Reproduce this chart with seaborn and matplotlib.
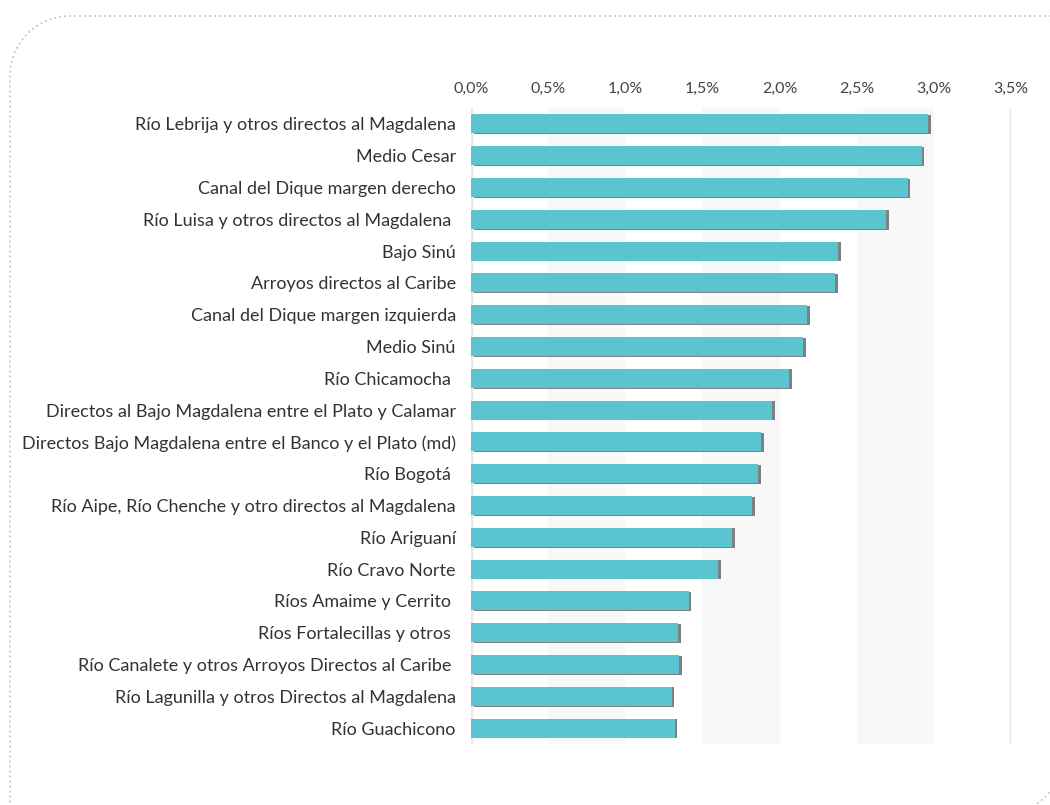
import matplotlib
matplotlib.use("Agg")
import matplotlib.pyplot as plt
import matplotlib.patheffects as pe
from matplotlib.patches import PathPatch
from matplotlib.path import Path
import seaborn as sns
import pandas as pd

categories = [
    "Río Lebrija y otros directos al Magdalena",
    "Medio Cesar",
    "Canal del Dique margen derecho",
    "Río Luisa y otros directos al Magdalena ",
    "Bajo Sinú",
    "Arroyos directos al Caribe",
    "Canal del Dique margen izquierda",
    "Medio Sinú",
    "Río Chicamocha ",
    "Directos al Bajo Magdalena entre el Plato y Calamar",
    "Directos Bajo Magdalena entre el Banco y el Plato (md)",
    "Río Bogotá ",
    "Río Aipe, Río Chenche y otro directos al Magdalena",
    "Río Ariguaní",
    "Río Cravo Norte",
    "Ríos Amaime y Cerrito ",
    "Ríos Fortalecillas y otros ",
    "Río Canalete y otros Arroyos Directos al Caribe ",
    "Río Lagunilla y otros Directos al Magdalena",
    "Río Guachicono",
]
values = [2.96, 2.92, 2.83, 2.69, 2.38, 2.36, 2.18, 2.15, 2.06, 1.95,
          1.88, 1.86, 1.82, 1.69, 1.60, 1.41, 1.34, 1.35, 1.30, 1.32]
tick_values = [0.0, 0.5, 1.0, 1.5, 2.0, 2.5, 3.0, 3.5]
tick_labels = ["0,0%", "0,5%", "1,0%", "1,5%", "2,0%", "2,5%", "3,0%", "3,5%"]

df = pd.DataFrame({"cuenca": categories, "valor": values})

sns.set_theme(style="white")
plt.rcParams["font.family"] = ["Lato", "DejaVu Sans"]

fig = plt.figure(figsize=(10.5, 8.05), dpi=100)
ax = fig.add_axes([0.4486, 0.0758, 0.5143, 0.79])

# alternating bands
for i in range(len(tick_values) - 1):
    if i % 2 == 1:
        ax.axvspan(tick_values[i], tick_values[i + 1], color="#f8f8f8", zorder=0, lw=0)
for t in (tick_values[0], tick_values[-1]):
    ax.axvline(t, color="#e8e8e8", lw=2.5, zorder=0.5)

sns.barplot(data=df, x="valor", y="cuenca", color="#5bc4d1", saturation=1,
            width=0.6, linewidth=0, ax=ax, zorder=2)
for p in ax.containers[0].patches:
    p.set_linewidth(0)
    p.set_path_effects([pe.SimplePatchShadow(offset=(2.0, -0.5), shadow_rgbFace="#808080", alpha=1.0),
                        pe.Normal()])

ax.set_xlim(0, 3.5)
ax.set_ylim(len(categories) - 0.5, -0.5)
ax.xaxis.tick_top()
ax.set_xticks(tick_values)
ax.set_xticklabels(tick_labels, fontsize=11.5, color="#444444")
ax.tick_params(axis="x", length=0, pad=9)
ax.tick_params(axis="y", length=0, pad=11, labelsize=13, labelcolor="#333333")
ax.set_xlabel("")
ax.set_ylabel("")
for s in ax.spines.values():
    s.set_visible(False)
ax.patch.set_alpha(0)

# dotted frame: rounded top-left and bottom-right corners (in inches)
L, R, B, T, r = 0.10, 10.62, -0.10, 7.89, 0.6
k = 0.5523 * r
verts = [
    (R + 0.3, T), (L + r, T),
    (L + r - k, T), (L, T - r + k), (L, T - r),
    (L, B - 0.3),
]
codes = [Path.MOVETO, Path.LINETO, Path.CURVE4, Path.CURVE4, Path.CURVE4, Path.LINETO]
frame = PathPatch(Path(verts, codes), transform=fig.dpi_scale_trans, fill=False,
                  edgecolor="#bdbdbd", linestyle=(0, (1, 2)), lw=1.2)
fig.patches.append(frame)
verts2 = [(R, B + r + 0.6), (R, B + r), (R, B + r - k), (R - r + k, B), (R - r, B), (R - r - 0.6, B)]
codes2 = [Path.MOVETO, Path.LINETO, Path.CURVE4, Path.CURVE4, Path.CURVE4, Path.LINETO]
frame2 = PathPatch(Path(verts2, codes2), transform=fig.dpi_scale_trans, fill=False,
                   edgecolor="#bdbdbd", linestyle=(0, (1, 2)), lw=1.2)
fig.patches.append(frame2)

fig.savefig("out.png", dpi=100)
